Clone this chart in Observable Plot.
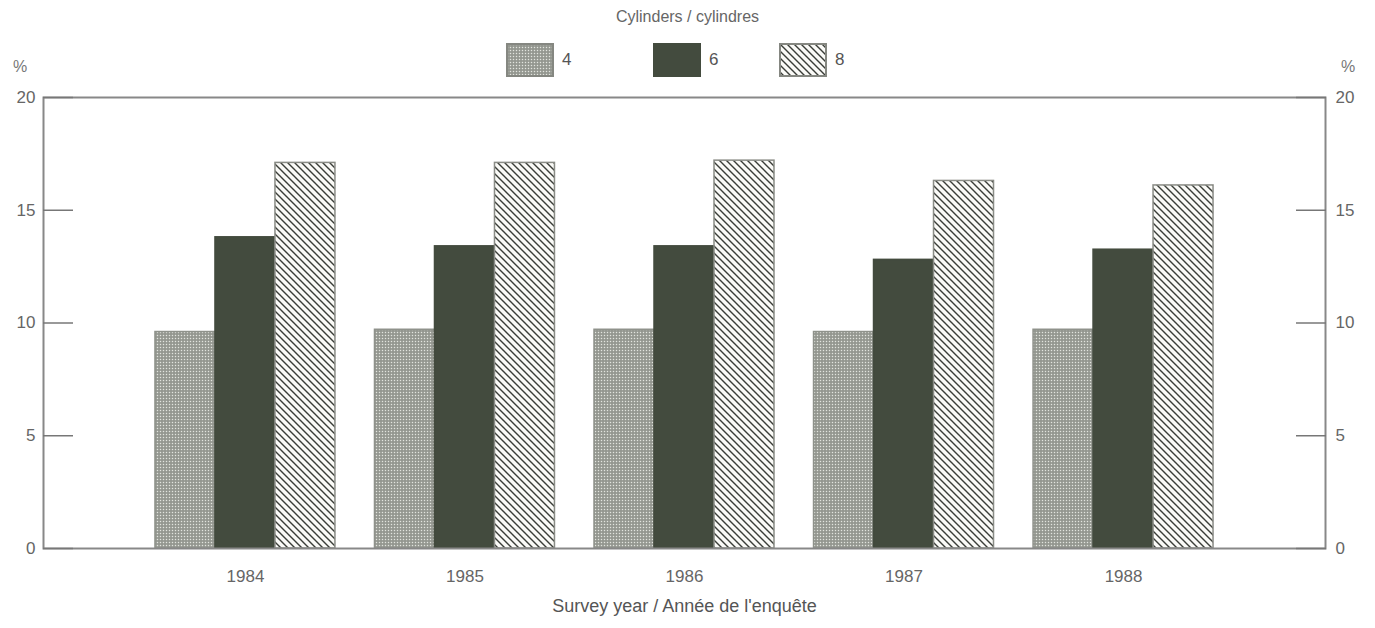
<!DOCTYPE html>
<html>
<head>
<meta charset="utf-8">
<script src="https://cdn.jsdelivr.net/npm/d3@7"></script>
<script src="https://cdn.jsdelivr.net/npm/@observablehq/plot@0.6"></script>
<style>
  html, body { margin: 0; padding: 0; background: #fff; }
  body { width: 1375px; height: 628px; overflow: hidden; font-family: "Liberation Sans", Arial, sans-serif; color: #555; }
  #header { position: relative; width: 1375px; height: 85px; }
  #title { position: absolute; left: 0; width: 1375px; top: 8px; text-align: center; font-size: 16px; color: #666; }
  .leg { position: absolute; top: 43px; height: 34px; display: flex; align-items: center; font-size: 17px; color: #555; }
  .leg svg { margin-right: 8px; }
  .pct { position: absolute; top: 58px; font-size: 16px; color: #777; }
  #defs { position: absolute; width: 0; height: 0; }
</style>
</head>
<body>
<svg id="defs" width="0" height="0">
  <defs>
    <pattern id="dots" patternUnits="userSpaceOnUse" width="3" height="3">
      <rect width="3" height="3" fill="#949790"></rect>
      <circle cx="1.5" cy="1.5" r="0.75" fill="#e2e4de"></circle>
    </pattern>
    <pattern id="hatch" patternUnits="userSpaceOnUse" width="7" height="7">
      <rect width="7" height="7" fill="#fafaf7"></rect>
      <path d="M-1,-1 L8,8 M-1,6 L1,8 M6,-1 L8,1" stroke="#3a3d38" stroke-width="1.4"></path>
    </pattern>
  </defs>
</svg>
<div id="header">
  <div id="title">Cylinders / cylindres</div>
  <span class="pct" style="left:13px">%</span>
  <span class="pct" style="left:1341px">%</span>
</div>
<div id="chart"></div>
<script>
// ---- data ----
const years = [1984, 1985, 1986, 1987, 1988];
const cylinders = ["4", "6", "8"];
const values4 = [9.6, 9.7, 9.7, 9.6, 9.7];
const values6 = [13.8, 13.4, 13.4, 12.8, 13.25];
const values8 = [17.1, 17.1, 17.2, 16.3, 16.1];
const yTicks = [0, 5, 10, 15, 20];
const xTitle = "Survey year / Année de l'enquête";

const series = [
  {key: cylinders[0], values: values4, fill: "url(#dots)", stroke: "#8f928b"},
  {key: cylinders[1], values: values6, fill: "#434b3e", stroke: "#434b3e"},
  {key: cylinders[2], values: values8, fill: "url(#hatch)", stroke: "#8a8c86"}
];

// legend
const header = document.getElementById("header");
const legLeft = {"4": 506, "6": 653, "8": 779};
series.forEach(s => {
  const d = document.createElement("div");
  d.className = "leg";
  d.style.left = legLeft[s.key] + "px";
  d.innerHTML = `<svg width="48" height="34"><rect x="1" y="1" width="46" height="32" fill="${s.fill}" stroke="${s.key === "6" ? "#434b3e" : "#858781"}" stroke-width="2"></rect></svg><span>${s.key}</span>`;
  header.appendChild(d);
});

// table
const rows = [];
series.forEach((s, i) => {
  years.forEach((y, j) => rows.push({year: y, cyl: s.key, idx: i, value: s.values[j]}));
});

const barW = 0.2733; // fraction of a year per bar
const x1 = d => d.year + (d.idx - 1.5) * barW;
const x2 = d => d.year + (d.idx - 0.5) * barW;

const marks = series.map((s, i) =>
  Plot.rectY(rows.filter(r => r.idx === i), {
    x1, x2, y1: 0, y2: "value",
    fill: s.fill, stroke: s.stroke, strokeWidth: 1.5
  })
);

const plot = Plot.plot({
  width: 1375,
  height: 543,
  marginTop: 12,
  marginBottom: 80,
  marginLeft: 43,
  marginRight: 50,
  style: {fontFamily: "Liberation Sans, Arial, sans-serif", background: "#fff"},
  x: {domain: [1983.08, 1988.92], axis: null},
  y: {domain: [0, 20], axis: null},
  marks: [
    ...marks,
    Plot.frame({stroke: "#888", strokeWidth: 2}),
    Plot.axisY(yTicks, {anchor: "left", tickSize: -30, tickPadding: 38, stroke: "#777", strokeWidth: 1.5, fontSize: 17, color: "#666", label: null}),
    Plot.axisY(yTicks, {anchor: "right", tickSize: -30, tickPadding: 40, stroke: "#777", strokeWidth: 1.5, fontSize: 17, color: "#666", label: null}),
    Plot.axisX(years, {anchor: "bottom", tickSize: 0, tickPadding: 21, tickFormat: d => String(d), fontSize: 17, color: "#666", label: null}),
    Plot.text([xTitle], {frameAnchor: "bottom", dy: 63, fontSize: 18, fill: "#555"})
  ]
});
document.getElementById("chart").appendChild(plot);
</script>
</body>
</html>
